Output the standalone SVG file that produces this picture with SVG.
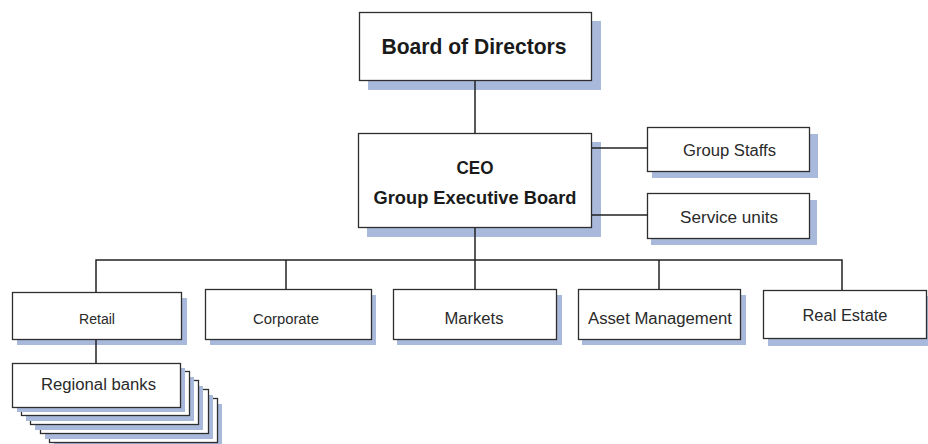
<svg xmlns="http://www.w3.org/2000/svg" width="928" height="444" viewBox="0 0 928 444">
<style>
.box{fill:#ffffff;stroke:#2e2e2e;stroke-width:1.3}
.sh{fill:#a9b9dc}
.t{font-family:"Liberation Sans",Arial,sans-serif;fill:#2a2a2a;text-anchor:middle}
.b{font-weight:bold;fill:#1a1a1a}
.con{stroke:#222;stroke-width:1.5;fill:none}
</style>
<rect width="928" height="444" fill="#ffffff"/>
<g id="board">
<rect class="sh" x="368" y="21" width="233" height="69"/>
<rect class="box" x="359.5" y="12.5" width="232" height="68"/>
<text class="t b" x="474" y="54" font-size="22" textLength="185" lengthAdjust="spacingAndGlyphs">Board of Directors</text>
</g>
<g id="ceo">
<rect class="sh" x="367" y="142" width="234" height="95"/>
<rect class="box" x="358.5" y="133.5" width="233" height="94"/>
<text class="t b" x="475" y="174" font-size="19" textLength="37" lengthAdjust="spacingAndGlyphs">CEO</text>
<text class="t b" x="475" y="204" font-size="19" textLength="203" lengthAdjust="spacingAndGlyphs">Group Executive Board</text>
</g>
<g id="group-staffs">
<rect class="sh" x="652" y="134" width="166" height="44"/>
<rect class="box" x="647.5" y="127.5" width="162" height="44"/>
<text class="t" x="729.5" y="156" font-size="16" textLength="93" lengthAdjust="spacingAndGlyphs">Group Staffs</text>
</g>
<g id="service-units">
<rect class="sh" x="651" y="200" width="166" height="45"/>
<rect class="box" x="647.5" y="193.5" width="162" height="45"/>
<text class="t" x="729" y="223" font-size="16" textLength="98" lengthAdjust="spacingAndGlyphs">Service units</text>
</g>
<g id="retail">
<rect class="sh" x="17" y="298" width="170" height="47"/>
<rect class="box" x="12.5" y="292.5" width="169" height="47"/>
<text class="t" x="97" y="324" font-size="14" textLength="36" lengthAdjust="spacingAndGlyphs">Retail</text>
</g>
<g id="corporate">
<rect class="sh" x="210" y="295" width="166" height="50"/>
<rect class="box" x="205.5" y="289.5" width="166" height="50"/>
<text class="t" x="286" y="324" font-size="14" textLength="66" lengthAdjust="spacingAndGlyphs">Corporate</text>
</g>
<g id="markets">
<rect class="sh" x="397" y="295" width="165" height="50"/>
<rect class="box" x="393.5" y="289.5" width="163" height="50"/>
<text class="t" x="474" y="324" font-size="16" textLength="59" lengthAdjust="spacingAndGlyphs">Markets</text>
</g>
<g id="asset-management">
<rect class="sh" x="582" y="295" width="164" height="50"/>
<rect class="box" x="578.5" y="289.5" width="162" height="50"/>
<text class="t" x="660" y="324" font-size="16" textLength="144" lengthAdjust="spacingAndGlyphs">Asset Management</text>
</g>
<g id="real-estate">
<rect class="sh" x="768" y="296" width="166" height="50"/>
<rect class="box" x="763.5" y="290.5" width="163" height="48"/>
<text class="t" x="845" y="321" font-size="16" textLength="85" lengthAdjust="spacingAndGlyphs">Real Estate</text>
</g>
<g id="regional-banks">
<rect class="sh" x="54" y="404" width="168" height="44"/>
<rect class="box" x="49.5" y="398.5" width="168" height="44"/>
<rect class="sh" x="45" y="395" width="168" height="44"/>
<rect class="box" x="40.5" y="389.5" width="168" height="44"/>
<rect class="sh" x="35" y="386" width="168" height="44"/>
<rect class="box" x="30.5" y="380.5" width="168" height="44"/>
<rect class="sh" x="26" y="377" width="168" height="44"/>
<rect class="box" x="21.5" y="371.5" width="168" height="44"/>
<rect class="sh" x="17" y="368" width="168" height="44"/>
<rect class="box" x="12.5" y="363.5" width="168" height="44"/>
<text class="t" x="98.5" y="390" font-size="16" textLength="115" lengthAdjust="spacingAndGlyphs">Regional banks</text>
</g>
<g id="connectors" class="con">
<path d="M475 81 V133"/>
<path d="M475 228 V260"/>
<path d="M592 148 H648"/>
<path d="M592 215 H648"/>
<path d="M96 292 V260 H842 V290"/>
<path d="M286 260 V289"/>
<path d="M475 260 V289"/>
<path d="M659 260 V289"/>
<path d="M96 340 V363"/>
</g>
</svg>
